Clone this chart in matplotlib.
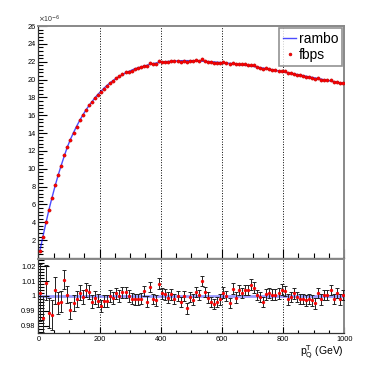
import numpy as np
import matplotlib.pyplot as plt
from matplotlib.ticker import MultipleLocator, FixedLocator

plt.rcParams['font.family'] = ['Liberation Sans', 'DejaVu Sans']

# bin centres (GeV)
pt = np.arange(5, 1000, 10)

# rambo distribution (x 1e-6)
rambo = [0.8, 2.4, 3.95, 5.45, 6.8, 8.1, 9.3, 10.4, 11.45, 12.45,
         13.3, 14.05, 14.75, 15.4, 16.0, 16.55, 17.05, 17.5, 17.95, 18.35,
         18.7, 19.05, 19.35, 19.65, 19.9, 20.15, 20.35, 20.55, 20.75, 20.9,
         21.05, 21.2, 21.3, 21.4, 21.5, 21.6, 21.7, 21.78, 21.85, 21.9,
         21.95, 22.0, 22.03, 22.06, 22.08, 22.1, 22.11, 22.12, 22.12, 22.12,
         22.11, 22.1, 22.08, 22.06, 22.04, 22.02, 22.0, 21.97, 21.94, 21.91,
         21.88, 21.85, 21.82, 21.78, 21.74, 21.7, 21.66, 21.61, 21.56, 21.51,
         21.46, 21.4, 21.34, 21.28, 21.22, 21.16, 21.1, 21.03, 20.97, 20.9,
         20.84, 20.77, 20.7, 20.64, 20.57, 20.5, 20.44, 20.37, 20.3, 20.24,
         20.17, 20.1, 20.04, 19.97, 19.9, 19.84, 19.77, 19.7, 19.64, 19.57]

# fbps / rambo
ratio = [1.0022, 0.985, 1.0089, 0.9887, 0.9873, 1.0038, 0.995, 0.996, 1.011, 1.0009,
         0.9904, 0.9953, 0.998, 1.002, 0.9993, 1.0038, 1.0027, 0.996, 0.9987, 0.9967,
         0.9931, 0.9964, 0.9964, 0.9998, 0.9987, 1.0016, 0.9998, 1.0024, 1.0024, 1.0,
         0.998, 0.9978, 0.9976, 0.998, 1.0033, 0.996, 1.006, 0.998, 0.997, 1.0082,
         1.0016, 1.001, 0.9989, 1.001, 0.998, 0.9998, 0.996, 1.0, 0.9916, 0.9993,
         0.9975, 1.0025, 1.0004, 1.01, 1.0027, 0.9989, 0.996, 0.9944, 0.996, 0.9976,
         1.0022, 0.9998, 0.9953, 1.0049, 0.9989, 1.0038, 1.002, 1.0038, 1.0038, 1.0076,
         1.0056, 1.0004, 0.9993, 0.996, 1.001, 1.002, 1.0009, 1.0009, 1.0016, 1.0042,
         1.0033, 0.9976, 0.9993, 1.0016, 0.9993, 0.998, 0.998, 0.997, 0.998, 0.997,
         0.9949, 1.002, 0.9976, 1.0004, 1.0004, 1.0038, 0.998, 1.002, 0.9976, 1.0004]

# error on the ratio
ratio_err = [0.019, 0.015, 0.012, 0.01, 0.01, 0.009, 0.0075, 0.007, 0.0065, 0.006,
             0.0058, 0.0055, 0.0052, 0.005, 0.0048, 0.0047, 0.0046, 0.0045, 0.0044, 0.0043,
             0.0042, 0.0042, 0.0041, 0.004, 0.004, 0.0039, 0.0039, 0.0038, 0.0038, 0.0038,
             0.0037, 0.0037, 0.0037, 0.0036, 0.0036, 0.0036, 0.0036, 0.0035, 0.0035, 0.0035,
             0.0035, 0.0035, 0.0035, 0.0035, 0.0035, 0.0035, 0.0035, 0.0035, 0.0035, 0.0035,
             0.0035, 0.0035, 0.0035, 0.0035, 0.0035, 0.0035, 0.0035, 0.0035, 0.0035, 0.0035,
             0.0035, 0.0035, 0.0035, 0.0035, 0.0035, 0.0035, 0.0035, 0.0035, 0.0035, 0.0035,
             0.0035, 0.0035, 0.0035, 0.0035, 0.0035, 0.0035, 0.0035, 0.0035, 0.0035, 0.0035,
             0.0035, 0.0035, 0.0035, 0.0035, 0.0035, 0.0035, 0.0035, 0.0035, 0.0035, 0.0035,
             0.0035, 0.0035, 0.0035, 0.0035, 0.0035, 0.0035, 0.0035, 0.0035, 0.0035, 0.0035]

x_ticks = [0, 200, 400, 600, 800, 1000]
x_labels = ['0', '200', '400', '600', '800', '1000']
grid_x = [200, 400, 600, 800]

rambo = np.array(rambo)
ratio = np.array(ratio)
ratio_err = np.array(ratio_err)
fbps = rambo * ratio
fbps_err = rambo * ratio_err

fig = plt.figure(figsize=(3.82, 3.70), dpi=100)
ax1 = fig.add_axes([0.1003, 0.3027, 0.801, 0.627])
ax2 = fig.add_axes([0.1003, 0.1, 0.801, 0.1987])


def style(ax, ticklen):
    for s in ['top', 'right']:
        ax.spines[s].set_color('#888888')
        ax.spines[s].set_linewidth(1.4)
    for s in ['left', 'bottom']:
        ax.spines[s].set_color('#333333')
        ax.spines[s].set_linewidth(0.9)
    ax.tick_params(which='both', direction='in', labelsize=5.3, pad=2,
                   width=0.8, colors='black')
    ax.tick_params(which='major', length=ticklen)
    ax.tick_params(which='minor', length=ticklen / 2)
    ax.set_xlim(0, 1000)
    ax.xaxis.set_major_locator(FixedLocator(x_ticks))
    ax.xaxis.set_minor_locator(FixedLocator(np.arange(0, 1001, 50)))
    for g in grid_x:
        ax.axvline(g, color='black', ls=':', lw=0.7, zorder=0)


# top panel
style(ax1, 6.5)
ax1.plot(pt, rambo, color='blue', lw=1, alpha=0.7, label='rambo', zorder=2)
ax1.errorbar(pt, fbps, yerr=fbps_err, fmt='none', ecolor='black', elinewidth=0.5, zorder=3)
ax1.plot(pt, fbps, ls='none', marker='o', ms=2.3, mfc='red', mec='#c00000',
         mew=0.4, label='fbps', zorder=4)
ax1.set_ylim(0, 26)
ax1.yaxis.set_major_locator(FixedLocator(np.arange(2, 27, 2)))
ax1.yaxis.set_minor_locator(MultipleLocator(0.4))
ax1.set_xticklabels([])
ax1.text(0.0, 1.003, r'$\times$10$^{-6}$', transform=ax1.transAxes,
         fontsize=5, va='bottom', ha='left', color='#333333')
leg = ax1.legend(loc='upper right', fontsize=10, frameon=True, fancybox=False,
                 borderpad=0.25, handlelength=1.0, handletextpad=0.2,
                 labelspacing=0.2, borderaxespad=0.15, markerscale=0.9)
leg.get_frame().set_edgecolor('#777777')
leg.get_frame().set_linewidth(1.2)

# ratio panel
style(ax2, 4)
ax2.axhline(1.0, color='#6f6fff', lw=2, alpha=0.7, zorder=1)
ax2.errorbar(pt, ratio, yerr=ratio_err, fmt='none', ecolor='#222222',
             elinewidth=0.7, capsize=1.3, capthick=0.7, zorder=3)
ax2.plot(pt, ratio, ls='none', marker='o', ms=2.1, mfc='red', mec='#e00000',
         mew=0.3, zorder=4)
ax2.set_ylim(0.975, 1.0245)
ax2.yaxis.set_major_locator(FixedLocator([0.98, 0.99, 1.0, 1.01, 1.02]))
ax2.yaxis.set_minor_locator(MultipleLocator(0.002))
ax2.set_yticklabels(['0.98', '0.99', '1', '1.01', '1.02'])
ax2.tick_params(axis='y', which='major', length=8)
ax2.tick_params(axis='y', which='minor', length=4)
ax2.set_xticklabels(x_labels)
ax2.set_xlabel(r'p$_{\rm Q}^{\rm T}$ (GeV)', fontsize=7.5, loc='right', labelpad=1)

fig.savefig('out.png', dpi=100)
